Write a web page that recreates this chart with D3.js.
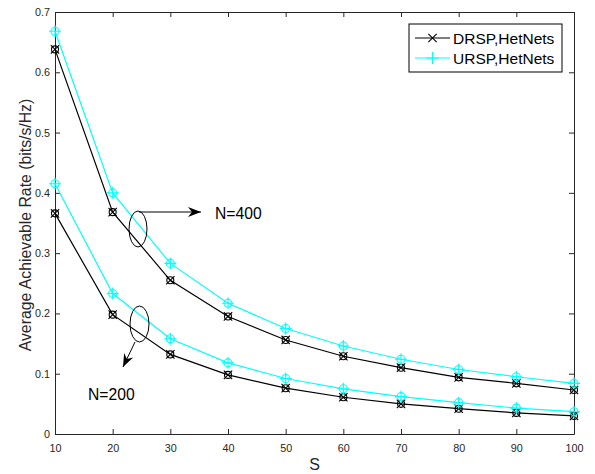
<!DOCTYPE html>
<html><head><meta charset="utf-8">
<script src="https://cdn.jsdelivr.net/npm/d3@7"></script>
<style>body{margin:0;background:#fff}svg{display:block}text{font-family:"Liberation Sans",Arial,sans-serif}</style>
</head><body><svg id="c" width="595" height="474"></svg>
<script>
const sValues = [10,20,30,40,50,60,70,80,90,100];
const drsp400 = [0.638,0.368,0.255,0.195,0.156,0.129,0.110,0.094,0.084,0.073];
const ursp400 = [0.668,0.400,0.283,0.217,0.175,0.146,0.124,0.107,0.095,0.084];
const drsp200 = [0.366,0.198,0.132,0.098,0.076,0.061,0.050,0.042,0.035,0.030];
const ursp200 = [0.415,0.233,0.158,0.118,0.092,0.075,0.062,0.052,0.043,0.037];
const xTicks = [10,20,30,40,50,60,70,80,90,100];
const yTicks = [0,0.1,0.2,0.3,0.4,0.5,0.6,0.7];
const legendLabels = ["DRSP,HetNets","URSP,HetNets"];
const annoLabels = ["N=400","N=200"];

const svg = d3.select("#c");
const L=55,R=574,T=12,B=434;
const x = d3.scaleLinear().domain([10,100]).range([L,R]);
const y = d3.scaleLinear().domain([0,0.7]).range([B,T]);
const axisCol="#262626";

const gx = svg.append("g").attr("transform",`translate(0,${B})`)
  .call(d3.axisBottom(x).tickValues(xTicks).tickSizeInner(-5).tickSizeOuter(0).tickPadding(10).tickFormat(d3.format("d")));
const gxt = svg.append("g").attr("transform",`translate(0,${T})`)
  .call(d3.axisTop(x).tickValues(xTicks).tickSizeInner(-5).tickSizeOuter(0).tickFormat(""));
const gy = svg.append("g").attr("transform",`translate(${L},0)`)
  .call(d3.axisLeft(y).tickValues(yTicks).tickSizeInner(-5).tickSizeOuter(0).tickPadding(5).tickFormat(d=>d===0?"0":d3.format(".1f")(d)));
const gyr = svg.append("g").attr("transform",`translate(${R},0)`)
  .call(d3.axisRight(y).tickValues(yTicks).tickSizeInner(-5).tickSizeOuter(0).tickFormat(""));
[gx,gxt,gy,gyr].forEach(g=>{
  g.selectAll("path,line").attr("stroke",axisCol).attr("stroke-width",1);
  g.selectAll("text").attr("fill",axisCol).attr("font-size",10.8).attr("font-family","Liberation Sans, Arial");
});

const line = d3.line().x((d,i)=>x(sValues[i])).y(d=>y(d));
const series = [
  {v:drsp400,c:"#000000",m:"x"},
  {v:ursp400,c:"#00ffff",m:"+"},
  {v:drsp200,c:"#000000",m:"x"},
  {v:ursp200,c:"#00ffff",m:"+"}
];
function marker(g,cx,cy,m,c,circle){
  const s=4.2;
  if(m==="x"){
    g.append("path").attr("d",`M${cx-s},${cy-s}L${cx+s},${cy+s}M${cx-s},${cy+s}L${cx+s},${cy-s}`).attr("stroke",c).attr("stroke-width",1.1).attr("fill","none");
  } else {
    const a=6;
    g.append("path").attr("d",`M${cx-a},${cy}L${cx+a},${cy}M${cx},${cy-a}L${cx},${cy+a}`).attr("stroke",c).attr("stroke-width",1.1).attr("fill","none");
  }
  if(circle) g.append("circle").attr("cx",cx).attr("cy",cy).attr("r",m==="x"?3.5:4).attr("stroke",c).attr("stroke-width",1.1).attr("fill","none");
}
series.forEach(s=>{
  svg.append("path").attr("d",line(s.v)).attr("fill","none").attr("stroke",s.c).attr("stroke-width",1.2);
  const g=svg.append("g");
  s.v.forEach((d,i)=>marker(g,x(sValues[i]),y(d),s.m,s.c,true));
});

svg.append("text").attr("x",(L+R)/2).attr("y",470).attr("text-anchor","middle").attr("font-size",16).attr("fill",axisCol).text("S");
svg.append("text").attr("transform",`translate(31,${(T+B)/2+2}) rotate(-90)`).attr("text-anchor","middle").attr("font-size",15.8).attr("fill",axisCol).text("Average Achievable Rate (bits/s/Hz)");

const lg = svg.append("g");
lg.append("rect").attr("x",409).attr("y",24).attr("width",153).attr("height",48).attr("fill","#fff").attr("stroke","#000").attr("stroke-width",1);
[{c:"#000",m:"x"},{c:"#00ffff",m:"+"}].forEach((e,i)=>{
  const yy=38+i*20;
  lg.append("line").attr("x1",415).attr("x2",450).attr("y1",yy).attr("y2",yy).attr("stroke",e.c).attr("stroke-width",1.2);
  marker(lg,432.5,yy,e.m,e.c,false);
  lg.append("text").attr("x",453).attr("y",yy+5.5).attr("font-size",15.5).attr("fill","#000").text(legendLabels[i]);
});

function arrow(x1,y1,x2,y2){
  svg.append("line").attr("x1",x1).attr("y1",y1).attr("x2",x2).attr("y2",y2).attr("stroke","#000").attr("stroke-width",1);
  const ang=Math.atan2(y2-y1,x2-x1), len=13, w=5, back=9;
  const ux=Math.cos(ang), uy=Math.sin(ang), px=-uy, py=ux;
  const p=[[x2,y2],[x2-len*ux+w*px,y2-len*uy+w*py],[x2-back*ux,y2-back*uy],[x2-len*ux-w*px,y2-len*uy-w*py]];
  svg.append("path").attr("d","M"+p.map(q=>q.join(",")).join("L")+"Z").attr("fill","#000");
}
svg.append("ellipse").attr("cx",138).attr("cy",229).attr("rx",9).attr("ry",18).attr("fill","none").attr("stroke","#000").attr("stroke-width",1);
arrow(139,212,201,212);
svg.append("text").attr("x",215).attr("y",219).attr("font-size",15.7).attr("fill","#000").text(annoLabels[0]);
svg.append("ellipse").attr("cx",139.5).attr("cy",324).attr("rx",9.5).attr("ry",18).attr("fill","none").attr("stroke","#000").attr("stroke-width",1);
arrow(135,342,123,367);
svg.append("text").attr("x",88).attr("y",400).attr("font-size",15.7).attr("fill","#000").text(annoLabels[1]);
</script></body></html>
